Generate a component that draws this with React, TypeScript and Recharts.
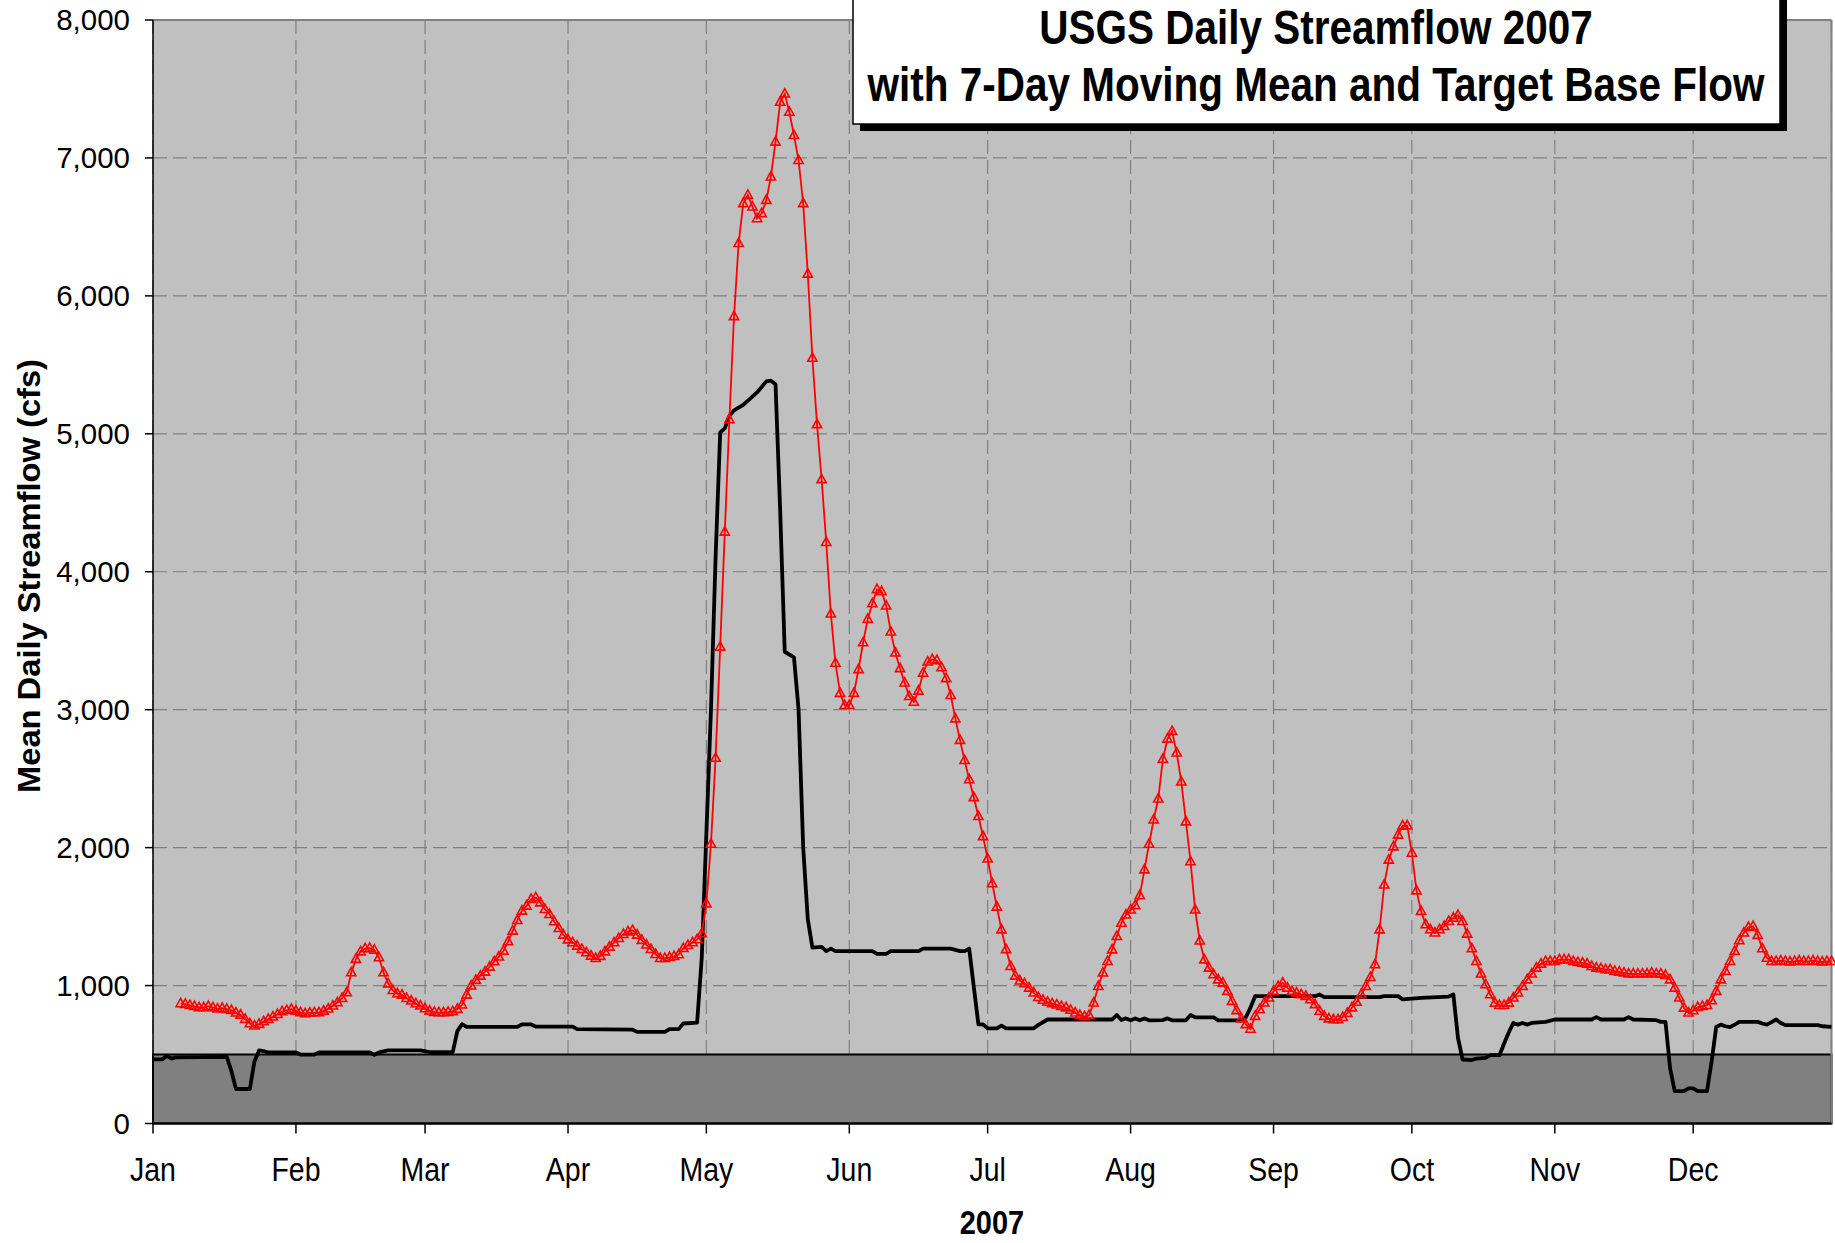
import React from 'react'
import { LineChart, Line, XAxis, YAxis, CartesianGrid, ReferenceArea, ReferenceLine } from 'recharts'

const MONTHS = ['Jan', 'Feb', 'Mar', 'Apr', 'May', 'Jun', 'Jul', 'Aug', 'Sep', 'Oct', 'Nov', 'Dec']
// day of year (0 = Jan 1) where each month starts
const MONTH_START_DAYS = [0, 31, 59, 90, 120, 151, 181, 212, 243, 273, 304, 334]
const FLOW_TICKS = [0, 1000, 2000, 3000, 4000, 5000, 6000, 7000, 8000]
const LAST_DAY = 364
const TARGET_BASE_FLOW = 500

// 7-day moving mean (cfs), one value per day, first value is Jan 7 (day 6)
const MEAN_START_DAY = 6
const MEAN_7DAY = [
  870, 865, 857, 850, 841, 841, 850, 841, 831, 836,
  829, 821, 802, 787, 756, 725, 708, 720, 739, 756,
  773, 792, 812, 821, 829, 816, 804, 797, 802, 804,
  804, 816, 831, 853, 877, 908, 949, 1094, 1191, 1246,
  1268, 1271, 1258, 1203, 1094, 1014, 966, 942, 932, 908,
  889, 870, 853, 833, 816, 807, 804, 804, 807, 812,
  829, 860, 932, 998, 1039, 1070, 1099, 1135, 1174, 1208,
  1251, 1319, 1396, 1473, 1541, 1577, 1626, 1638, 1601, 1553,
  1517, 1464, 1415, 1367, 1333, 1312, 1287, 1263, 1239, 1215,
  1198, 1213, 1246, 1280, 1312, 1343, 1372, 1391, 1401, 1367,
  1329, 1295, 1263, 1227, 1198, 1198, 1205, 1212, 1225, 1270,
  1292, 1312, 1334, 1377, 1594, 2026, 2649, 3455, 4289, 5104,
  5851, 6381, 6670, 6730, 6646, 6561, 6598, 6694, 6863, 7116,
  7405, 7465, 7333, 7164, 6983, 6670, 6159, 5549, 5068, 4669,
  4214, 3695, 3338, 3120, 3032, 3032, 3120, 3292, 3487, 3656,
  3769, 3872, 3857, 3753, 3565, 3412, 3299, 3195, 3097, 3055,
  3136, 3266, 3347, 3364, 3357, 3305, 3227, 3104, 2935, 2779,
  2633, 2494, 2364, 2227, 2081, 1919, 1740, 1570, 1405, 1262,
  1140, 1070, 1035, 1015, 983, 947, 915, 895, 880, 870,
  860, 850, 840, 822, 802, 785, 775, 785, 875, 995,
  1092, 1176, 1260, 1357, 1453, 1513, 1549, 1581, 1653, 1840,
  2026, 2202, 2354, 2641, 2788, 2843, 2687, 2477, 2188, 1899,
  1549, 1325, 1188, 1128, 1080, 1043, 1019, 959, 887, 820,
  760, 718, 685, 778, 826, 875, 911, 959, 995, 1019,
  983, 959, 947, 935, 923, 899, 863, 815, 778, 760,
  754, 754, 770, 800, 840, 880, 935, 995, 1060, 1152,
  1405, 1730, 1911, 2007, 2092, 2159, 2159, 1961, 1688, 1539,
  1442, 1406, 1382, 1406, 1430, 1466, 1490, 1510, 1466, 1374,
  1268, 1176, 1085, 1007, 935, 874, 857, 857, 874, 911,
  947, 995, 1043, 1085, 1128, 1157, 1176, 1176, 1176, 1188,
  1188, 1188, 1176, 1169, 1164, 1157, 1140, 1128, 1123, 1116,
  1116, 1104, 1099, 1092, 1085, 1085, 1085, 1085, 1085, 1092,
  1085, 1085, 1075, 1043, 983, 911, 838, 802, 819, 843,
  850, 857, 891, 959, 1043, 1104, 1176, 1249, 1326, 1382,
  1423, 1430, 1365, 1268, 1200, 1176, 1176, 1180, 1176, 1172,
  1176, 1180, 1176, 1176, 1180, 1176, 1172, 1176, 1176,
]

// daily streamflow (cfs) as [day, value] at the days where the level changes
const DAILY_FLOW: [number, number][] = [
  [0, 465], [2, 465], [3, 490], [4, 470], [5, 480], [16, 483], [17, 380], [18, 250], [21, 250],
  [22, 450], [23, 530], [24, 525], [25, 515], [31, 515], [32, 500], [35, 500], [36, 515], [47, 515],
  [48, 498], [49, 515], [51, 530], [58, 530], [60, 518], [65, 518], [66, 670], [67, 720], [68, 700],
  [79, 700], [80, 718], [82, 718], [83, 703], [91, 703], [92, 684], [104, 680], [105, 664], [111, 664],
  [112, 684], [114, 684], [115, 725], [118, 732], [119, 1200], [120, 2100], [121, 3000], [122, 4100],
  [123, 5010], [124, 5040], [125, 5130], [126, 5170], [128, 5210], [131, 5300], [133, 5380], [134, 5385],
  [135, 5360], [136, 4450], [137, 3420], [139, 3380], [140, 3000], [141, 2000], [142, 1480], [143, 1275],
  [145, 1280], [146, 1250], [147, 1268], [148, 1250], [156, 1250], [157, 1230], [159, 1230], [160, 1250],
  [166, 1250], [167, 1268], [173, 1268], [175, 1250], [176, 1250], [177, 1268], [178, 990], [179, 718],
  [180, 718], [181, 690], [183, 690], [184, 710], [185, 690], [191, 690], [192, 715], [194, 754],
  [208, 754], [209, 786], [210, 750], [211, 762], [212, 748], [213, 762], [214, 748], [215, 762],
  [216, 748], [219, 750], [220, 762], [221, 748], [224, 748], [225, 786], [226, 770], [230, 770],
  [231, 748], [236, 748], [237, 770], [238, 840], [239, 923], [252, 923], [253, 935], [254, 916],
  [266, 916], [267, 923], [270, 923], [271, 900], [275, 911], [281, 920], [282, 935], [283, 620],
  [284, 464], [286, 460], [287, 471], [289, 476], [290, 495], [292, 495], [293, 580], [294, 660],
  [295, 729], [296, 717], [297, 729], [298, 717], [299, 729], [302, 737], [304, 754], [312, 754],
  [313, 771], [314, 754], [319, 754], [320, 771], [321, 754], [326, 749], [327, 737], [328, 737],
  [329, 400], [330, 234], [332, 234], [333, 254], [334, 254], [335, 234], [337, 234], [338, 450],
  [339, 700], [340, 717], [341, 705], [342, 698], [343, 717], [344, 737], [348, 737], [349, 725],
  [350, 717], [351, 735], [352, 754], [353, 729], [354, 713], [361, 713], [362, 705], [364, 700],
]

const flowData = DAILY_FLOW.map(([day, cfs]) => ({ day, cfs }))
const meanData = MEAN_7DAY.map((mean, i) => ({ day: MEAN_START_DAY + i, mean }))

const FONT = 'Liberation Sans, Arial, Helvetica, sans-serif'

const Triangle = (props: any) => {
  const { cx, cy, index } = props
  if (cx == null || cy == null) return <g key={index} />
  return (
    <path
      key={index}
      d={`M${cx},${cy - 5.2}L${cx + 4.6},${cy + 3.2}L${cx - 4.6},${cy + 3.2}Z`}
      fill="none"
      stroke="#FF0000"
      strokeWidth={1.6}
    />
  )
}

const MonthTick = ({ x, y, payload }: any) => (
  <text
    transform={`translate(${x},${y + 25.5}) scale(1,1.15)`}
    textAnchor="middle"
    fontFamily={FONT}
    fontSize={28.5}
    fill="#000"
  >
    {MONTHS[MONTH_START_DAYS.indexOf(payload.value)]}
  </text>
)

export default function App() {
  return (
    <div style={{ position: 'absolute', left: 0, top: 0, width: 1835, height: 1243, background: '#fff' }}>
      <LineChart width={1835} height={1243} margin={{ top: 20, right: 3.5, left: 0, bottom: 59.5 }}>
        <CartesianGrid fill="#C0C0C0" stroke="#808080" strokeWidth={1.2} strokeDasharray="14 6" />
        <XAxis
          type="number"
          dataKey="day"
          domain={[0, LAST_DAY]}
          ticks={MONTH_START_DAYS}
          interval={0}
          height={60}
          tickSize={10}
          tickMargin={22}
          axisLine={{ stroke: '#000', strokeWidth: 2 }}
          tickLine={{ stroke: '#000', strokeWidth: 1.5 }}
          tick={<MonthTick />}
        />
        <YAxis
          type="number"
          domain={[0, 8000]}
          ticks={FLOW_TICKS}
          interval={0}
          width={153}
          tickSize={8}
          tickMargin={15}
          tickFormatter={(v: number) => v.toLocaleString('en-US')}
          axisLine={{ stroke: '#000', strokeWidth: 1.5 }}
          tickLine={{ stroke: '#000', strokeWidth: 1.5 }}
          tick={{ fontFamily: FONT, fontSize: 29.5, fill: '#000' }}
        />
        <ReferenceArea
          x1={0}
          x2={LAST_DAY}
          y1={0}
          y2={TARGET_BASE_FLOW}
          fill="#808080"
          fillOpacity={1}
          stroke="#000"
          strokeWidth={2}
        />
        <ReferenceLine y={8000} stroke="#808080" strokeWidth={2} />
        <ReferenceLine x={LAST_DAY} stroke="#808080" strokeWidth={2} />
        <Line
          data={flowData}
          dataKey="cfs"
          type="linear"
          stroke="#000"
          strokeWidth={3.8}
          strokeLinejoin="round"
          dot={false}
          isAnimationActive={false}
        />
        <Line
          data={meanData}
          dataKey="mean"
          type="linear"
          stroke="#FF0000"
          strokeWidth={1.8}
          dot={Triangle}
          isAnimationActive={false}
        />
      </LineChart>

      <svg width={1835} height={1243} style={{ position: 'absolute', left: 0, top: 0, pointerEvents: 'none' }}>
        {/* title box with drop shadow */}
        <rect x={860} y={-3} width={927} height={134} fill="#000" />
        <rect x={853} y={-10} width={927} height={134} fill="#fff" stroke="#000" strokeWidth={1.5} />
        <text transform="translate(1316,44) scale(1,1.18)" textAnchor="middle" fontFamily={FONT}
          fontWeight="bold" fontSize={40.5}>
          USGS Daily Streamflow 2007
        </text>
        <text transform="translate(1316,101) scale(1,1.18)" textAnchor="middle" fontFamily={FONT}
          fontWeight="bold" fontSize={40.5}>
          with 7-Day Moving Mean and Target Base Flow
        </text>

        <text transform="translate(28.5,576) rotate(-90)" y={11} textAnchor="middle" fontFamily={FONT}
          fontWeight="bold" fontSize={31} textLength={434} lengthAdjust="spacingAndGlyphs">
          Mean Daily Streamflow (cfs)
        </text>
        <text transform="translate(992,1234) scale(1,1.15)" textAnchor="middle" fontFamily={FONT}
          fontWeight="bold" fontSize={29}>
          2007
        </text>
      </svg>
    </div>
  )
}
